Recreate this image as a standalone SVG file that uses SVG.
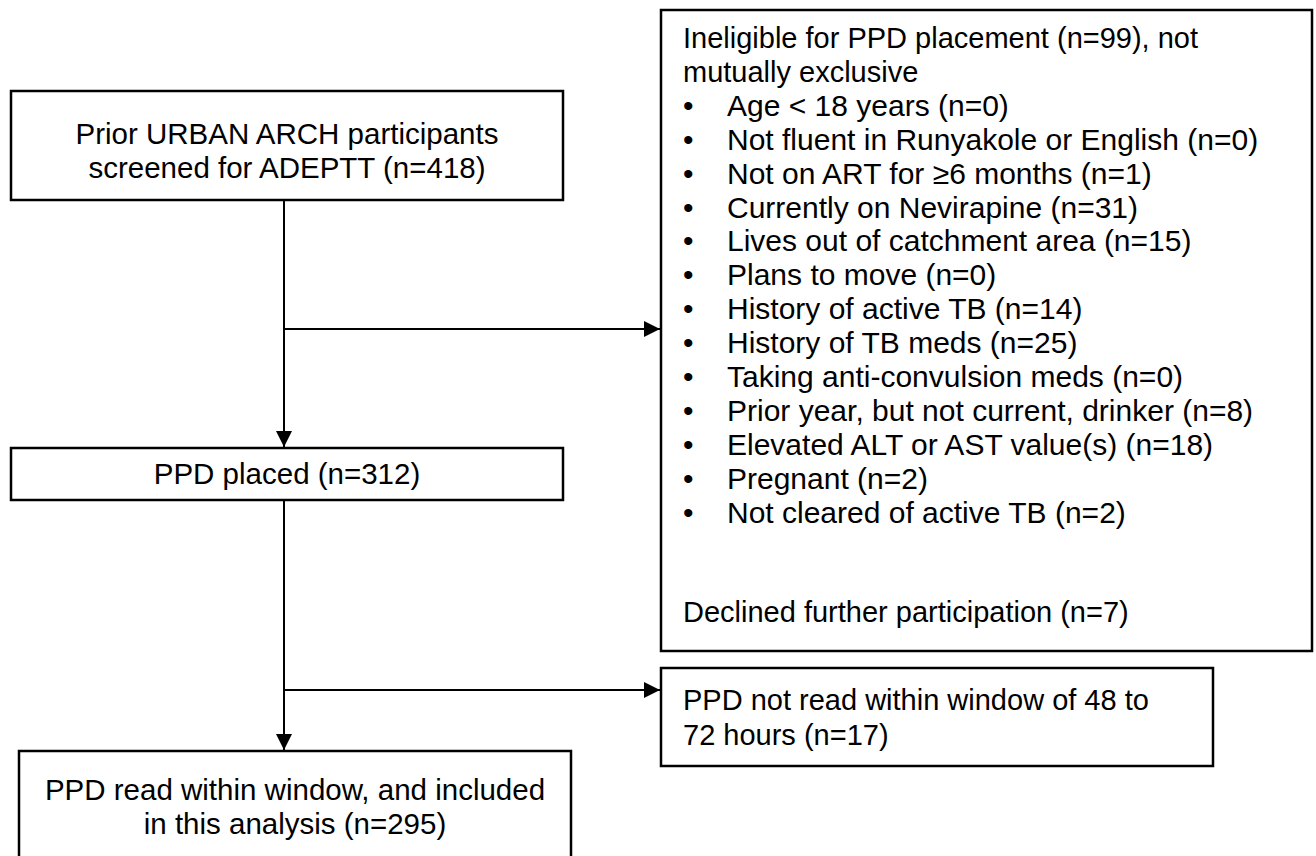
<svg xmlns="http://www.w3.org/2000/svg" width="1316" height="856" viewBox="0 0 1316 856">
<style>
.box{fill:#fff;stroke:#000;stroke-width:2.5}
.t{font-family:"Liberation Sans",Arial,sans-serif;font-size:29.5px;fill:#000}
.r{font-size:29px}
.b{font-size:30px}
.c{text-anchor:middle}
.ln{stroke:#000;stroke-width:2;fill:none}
</style>
<defs>
<marker id="ah" viewBox="0 0 10 10" refX="10" refY="5" markerWidth="16" markerHeight="16" markerUnits="userSpaceOnUse" orient="auto">
<path d="M0,0 L10,5 L0,10 Z" fill="#000"/>
</marker>
</defs>
<rect width="1316" height="856" fill="#fff"/>
<g id="connectors">
<line class="ln" x1="284" y1="200" x2="284" y2="447" marker-end="url(#ah)"/>
<line class="ln" x1="284" y1="329" x2="660" y2="329" marker-end="url(#ah)"/>
<line class="ln" x1="284" y1="500" x2="284" y2="750" marker-end="url(#ah)"/>
<line class="ln" x1="284" y1="690" x2="660" y2="690" marker-end="url(#ah)"/>
</g>
<g id="screened">
<rect class="box" x="11" y="91" width="552" height="109"/>
<text class="t c" x="287" y="144">Prior URBAN ARCH participants</text>
<text class="t c" x="287" y="178">screened for ADEPTT (n=418)</text>
</g>
<g id="ineligible">
<rect class="box" x="661" y="10" width="651" height="641"/>
<text class="t r" x="683" y="48">Ineligible for PPD placement (n=99), not</text>
<text class="t r" x="683" y="82">mutually exclusive</text>
<g class="t b">
<text x="683" y="116">•</text><text x="727" y="116">Age &lt; 18 years (n=0)</text>
<text x="683" y="150">•</text><text x="727" y="150">Not fluent in Runyakole or English (n=0)</text>
<text x="683" y="184">•</text><text x="727" y="184">Not on ART for ≥6 months (n=1)</text>
<text x="683" y="218">•</text><text x="727" y="218">Currently on Nevirapine (n=31)</text>
<text x="683" y="251">•</text><text x="727" y="251">Lives out of catchment area (n=15)</text>
<text x="683" y="285">•</text><text x="727" y="285">Plans to move (n=0)</text>
<text x="683" y="319">•</text><text x="727" y="319">History of active TB (n=14)</text>
<text x="683" y="353">•</text><text x="727" y="353">History of TB meds (n=25)</text>
<text x="683" y="387">•</text><text x="727" y="387">Taking anti-convulsion meds (n=0)</text>
<text x="683" y="421">•</text><text x="727" y="421">Prior year, but not current, drinker (n=8)</text>
<text x="683" y="455">•</text><text x="727" y="455">Elevated ALT or AST value(s) (n=18)</text>
<text x="683" y="489">•</text><text x="727" y="489">Pregnant (n=2)</text>
<text x="683" y="523">•</text><text x="727" y="523">Not cleared of active TB (n=2)</text>
</g>
<text class="t r" x="683" y="622">Declined further participation (n=7)</text>
</g>
<g id="placed">
<rect class="box" x="11" y="448" width="552" height="52"/>
<text class="t c" x="287" y="484">PPD placed (n=312)</text>
</g>
<g id="notread">
<rect class="box" x="661" y="668" width="552" height="98"/>
<text class="t r" x="683" y="710">PPD not read within window of 48 to</text>
<text class="t r" x="683" y="745">72 hours (n=17)</text>
</g>
<g id="included">
<rect class="box" x="19" y="751" width="552" height="120"/>
<text class="t c" x="295" y="800">PPD read within window, and included</text>
<text class="t c" x="295" y="834">in this analysis (n=295)</text>
</g>
</svg>
